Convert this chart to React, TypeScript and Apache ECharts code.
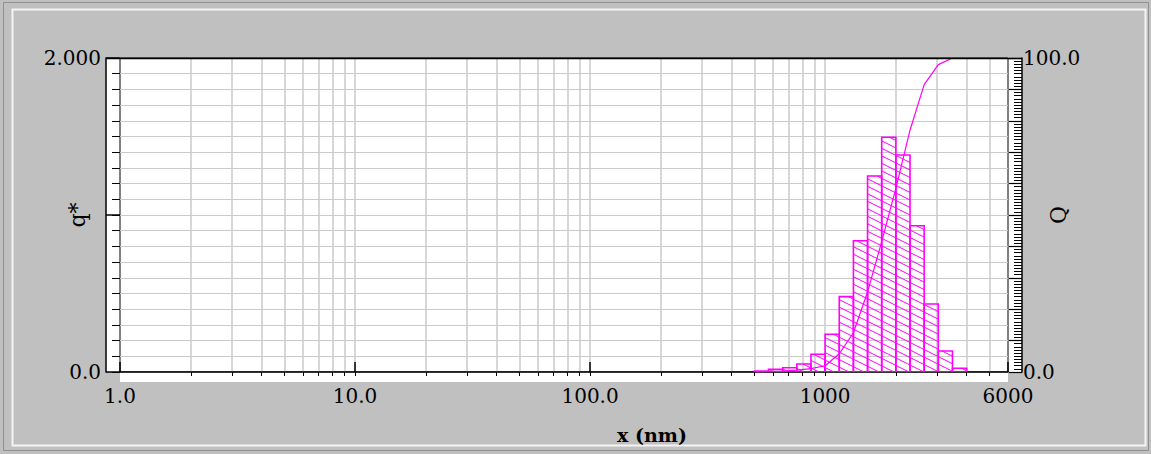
import React, { useEffect, useRef } from 'react';
import * as echarts from 'echarts';

// ---- data ----
const binEdges = [500, 574.3, 659.8, 757.9, 870.6, 1000, 1148.7, 1319.5, 1515.7, 1741.1, 2000, 2297.4, 2639.0, 3031.4, 3482.2, 4000];
const densityValues = [0.006, 0.017, 0.027, 0.051, 0.113, 0.24, 0.48, 0.836, 1.248, 1.495, 1.382, 0.932, 0.433, 0.134, 0.024];
const cumulativeSizes = [500, 574.3, 659.8, 757.9, 870.6, 1000, 1148.7, 1319.5, 1515.7, 1741.1, 2000, 2297.4, 2639.0, 3031.4, 3482.2];
const cumulativeValues = [0, 0.1, 0.3, 0.6, 1.1, 2.0, 5.8, 12.5, 25.5, 41.5, 58.5, 77, 91.5, 97.9, 100];

const xLabelValues = [1, 10, 100, 1000, 6000];
const xLabelTexts = ['1.0', '10.0', '100.0', '1000', '6000'];
const xGridValues = [
  2, 3, 4, 5, 6, 7, 8, 9, 10,
  20, 30, 40, 50, 60, 70, 80, 90, 100,
  200, 300, 400, 500, 600, 700, 800, 900, 1000,
  2000, 3000, 4000, 5000,
];
const leftLabelValues = [0, 2];
const leftLabelTexts = ['0.0', '2.000'];
const rightLabelValues = [0, 100];
const rightLabelTexts = ['0.0', '100.0'];

// ---- layout / style ----
const W = 1151;
const H = 454;
const GL = 120, GT = 58, GW = 888, GH = 314;
const STRIP_LR = 14, STRIP_B = 10;
const MAGENTA = '#ff00ff';
const GRIDC = '#cacaca';
const FONT = 'DejaVu Serif';
const HATCH_SLOPE = 0.5;
const HATCH_GAP = 7.5;

export default function App() {
  const ref = useRef<HTMLDivElement>(null);

  useEffect(() => {
    document.body.style.margin = '0';
    if (!ref.current) return;
    const chart = echarts.init(ref.current, undefined, { renderer: 'svg' });

    const bars = densityValues.map((v, i) => [binEdges[i], binEdges[i + 1], v]);
    const curve = cumulativeSizes.map((x, i) => [x, cumulativeValues[i]]);

    const renderBar = (params: any, api: any) => {
      const x0 = api.value(0), x1 = api.value(1), h = api.value(2);
      const p0 = api.coord([x0, h]);
      const p1 = api.coord([x1, 0]);
      const L = p0[0], T = p0[1], R = p1[0], B = p1[1];
      const children: any[] = [];
      const cMin = T - HATCH_SLOPE * R;
      const cMax = B - HATCH_SLOPE * L;
      for (let k = Math.ceil(cMin / HATCH_GAP); k * HATCH_GAP <= cMax; k++) {
        const c = k * HATCH_GAP;
        const xa = Math.max(L, (T - c) / HATCH_SLOPE);
        const xb = Math.min(R, (B - c) / HATCH_SLOPE);
        if (xb - xa > 0.3) {
          children.push({
            type: 'line',
            shape: { x1: xa, y1: HATCH_SLOPE * xa + c, x2: xb, y2: HATCH_SLOPE * xb + c },
            style: { stroke: MAGENTA, lineWidth: 1 },
          });
        }
      }
      children.push({
        type: 'rect',
        shape: { x: L, y: T, width: R - L, height: B - T },
        style: { fill: 'none', stroke: MAGENTA, lineWidth: 1.6 },
      });
      return { type: 'group', children };
    };

    const labelStyle = { color: '#000', fontFamily: FONT, fontSize: 20 };

    const option: any = {
      animation: false,
      backgroundColor: '#c0c0c0',
      grid: { left: GL, top: GT, width: GW, height: GH, show: true, borderColor: '#000', borderWidth: 1, backgroundColor: 'transparent' },
      graphic: [
        { type: 'rect', z: -100, silent: true, shape: { x: GL - STRIP_LR, y: GT, width: GW + 2 * STRIP_LR, height: GH }, style: { fill: '#fff' } },
        { type: 'rect', z: -100, silent: true, shape: { x: GL, y: GT + GH, width: GW, height: STRIP_B }, style: { fill: '#fff' } },
        { type: 'line', z: 50, silent: true, shape: { x1: GL - STRIP_LR, y1: GT + 0.5, x2: GL + GW + STRIP_LR, y2: GT + 0.5 }, style: { stroke: '#000', lineWidth: 1.5 } },
        { type: 'rect', silent: true, shape: { x: 12.5, y: 9.5, width: 1133, height: 436 }, style: { fill: 'none', stroke: '#f4f4f4', lineWidth: 2 } },
        { type: 'rect', silent: true, shape: { x: 3.5, y: 2.5, width: 1145, height: 448 }, style: { fill: 'none', stroke: '#909090', lineWidth: 1 } },
      ],
      xAxis: [
        {
          type: 'log', logBase: 10, min: 1, max: 6000, position: 'bottom', offset: STRIP_B,
          axisLine: { show: true, lineStyle: { color: '#000', width: 1.5 } },
          axisTick: { show: true, inside: true, length: STRIP_B, customValues: xLabelValues, lineStyle: { color: '#000', width: 1.5 } },
          axisLabel: {
            show: true, margin: 4, ...labelStyle, customValues: xLabelValues,
            formatter: (v: number) => {
              const i = xLabelValues.findIndex((t) => Math.abs(t - v) < 1e-6 * t);
              return i >= 0 ? xLabelTexts[i] : '';
            },
          },
          splitLine: { show: false },
          name: 'x (nm)', nameLocation: 'middle', nameGap: 43, nameMoveOverlap: false,
          nameTextStyle: { color: '#000', fontFamily: FONT, fontSize: 19, fontWeight: 'bold', padding: [0, 0, 0, 176] },
        },
        {
          type: 'log', logBase: 10, min: 1, max: 6000, position: 'bottom', offset: 0,
          axisLine: { show: false },
          axisTick: { show: true, inside: false, length: 4, customValues: xGridValues, lineStyle: { color: '#000', width: 1 } },
          axisLabel: { show: false },
          splitLine: { show: true, lineStyle: { color: GRIDC, width: 1.5 } },
        },
      ],
      yAxis: [
        {
          type: 'value', min: 0, max: 2, interval: 0.1, position: 'left', offset: 0,
          axisLine: { show: false },
          axisTick: { show: true, inside: false, length: 8, lineStyle: { color: '#000', width: 1 } },
          axisLabel: { show: false },
          splitLine: { show: true, lineStyle: { color: GRIDC, width: 1.2 } },
        },
        {
          type: 'value', min: 0, max: 2, interval: 1, position: 'left', offset: STRIP_LR,
          axisLine: { show: true, lineStyle: { color: '#000', width: 1.5 } },
          axisTick: { show: true, inside: true, length: STRIP_LR, customValues: [0, 1, 2], lineStyle: { color: '#000', width: 1.5 } },
          axisLabel: {
            show: true, margin: 5, ...labelStyle, customValues: leftLabelValues,
            formatter: (v: number) => {
              const i = leftLabelValues.findIndex((t) => Math.abs(t - v) < 1e-9);
              return i >= 0 ? leftLabelTexts[i] : '';
            },
          },
          splitLine: { show: false },
          name: 'q*', nameLocation: 'middle', nameGap: 18, nameMoveOverlap: false,
          nameTextStyle: { color: '#000', fontFamily: FONT, fontSize: 22 },
        },
        {
          type: 'value', min: 0, max: 100, interval: 10, position: 'right', offset: STRIP_LR,
          axisLine: { show: true, lineStyle: { color: '#000', width: 1.5 } },
          axisTick: { show: true, inside: true, length: 13, lineStyle: { color: '#000', width: 1.2 } },
          minorTick: { show: true, splitNumber: 10, length: 8, lineStyle: { color: '#000', width: 1 } },
          axisLabel: {
            show: true, margin: 1, ...labelStyle, customValues: rightLabelValues,
            formatter: (v: number) => {
              const i = rightLabelValues.findIndex((t) => Math.abs(t - v) < 1e-9);
              return i >= 0 ? rightLabelTexts[i] : '';
            },
          },
          splitLine: { show: false },
          name: 'Q', nameLocation: 'middle', nameGap: 25, nameMoveOverlap: false,
          nameTextStyle: { color: '#000', fontFamily: FONT, fontSize: 22 },
        },
      ],
      series: [
        {
          type: 'custom', name: 'q*', xAxisIndex: 0, yAxisIndex: 0,
          coordinateSystem: 'cartesian2d',
          encode: { x: [0, 1], y: 2 },
          renderItem: renderBar,
          data: bars,
          clip: true,
          z: 3,
        },
        {
          type: 'line', name: 'Q', xAxisIndex: 0, yAxisIndex: 2,
          data: curve, showSymbol: false, symbol: 'none',
          lineStyle: { color: MAGENTA, width: 1.2 },
          z: 4,
        },
      ],
    };

    chart.setOption(option);
    return () => chart.dispose();
  }, []);

  return <div ref={ref} style={{ width: W, height: H }} />;
}
